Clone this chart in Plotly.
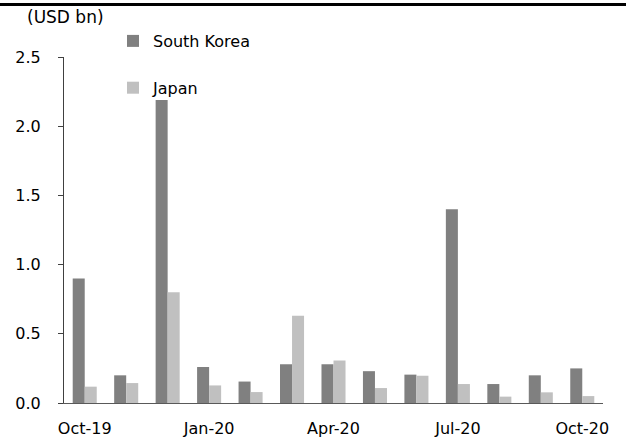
import plotly.graph_objects as go

# Monthly values, USD bn
months = ["Oct-19", "Nov-19", "Dec-19", "Jan-20", "Feb-20", "Mar-20", "Apr-20",
          "May-20", "Jun-20", "Jul-20", "Aug-20", "Sep-20", "Oct-20"]
south_korea = [0.90, 0.20, 2.19, 0.26, 0.155, 0.28, 0.28, 0.23, 0.205, 1.40, 0.137, 0.20, 0.25]
japan = [0.118, 0.144, 0.80, 0.127, 0.079, 0.63, 0.307, 0.108, 0.197, 0.137, 0.046, 0.077, 0.05]

shown_ticks = ["Oct-19", "Jan-20", "Apr-20", "Jul-20", "Oct-20"]
y_ticks = [0.0, 0.5, 1.0, 1.5, 2.0, 2.5]
y_tick_text = ["0.0", "0.5", "1.0", "1.5", "2.0", "2.5"]

W, H = 626, 441
ML, MR, MT, MB = 64, 23, 57, 38
PW, PH = W - ML - MR, H - MT - MB

FONT = "DejaVu Sans"
TXT = "#000000"


def px_x(px):
    return (px - ML) / PW


def px_y(py):
    return (H - MB - py) / PH


fig = go.Figure()
fig.add_trace(go.Bar(x=months, y=south_korea, name="South Korea",
                     marker=dict(color="#808080", line=dict(width=0)),
                     legendgroup="sk"))
fig.add_trace(go.Bar(x=months, y=japan, name="Japan",
                     marker=dict(color="#c0c0c0", line=dict(width=0)),
                     legendgroup="jp"))

fig.update_layout(
    width=W, height=H,
    margin=dict(l=ML, r=MR, t=MT, b=MB, pad=0, autoexpand=False),
    paper_bgcolor="white", plot_bgcolor="white",
    font=dict(family=FONT, size=16, color=TXT),
    barmode="group", bargap=0.42, bargroupgap=0,
    showlegend=True,
    legend=dict(
        xref="container", yref="container",
        x=113 / W, y=1 - 24 / H, xanchor="left", yanchor="top",
        bgcolor="rgba(0,0,0,0)", borderwidth=0,
        font=dict(family=FONT, size=16, color=TXT),
        tracegroupgap=23, traceorder="grouped",
        itemclick=False, itemdoubleclick=False,
    ),
    xaxis=dict(
        type="category", categoryorder="array", categoryarray=months,
        tickmode="array", tickvals=shown_ticks, ticktext=shown_ticks,
        ticks="", showgrid=False, zeroline=False,
        showline=True, linecolor="#595959", linewidth=1,
        tickfont=dict(family=FONT, size=16, color=TXT),
        ticklabelstandoff=11,
    ),
    yaxis=dict(
        range=[0, 2.5], tickmode="array", tickvals=y_ticks, ticktext=y_tick_text,
        ticks="outside", ticklen=5, tickwidth=1, tickcolor="#404040",
        showgrid=False, zeroline=False,
        showline=True, linecolor="#404040", linewidth=1,
        tickfont=dict(family=FONT, size=16, color=TXT),
        ticklabelstandoff=14,
    ),
    shapes=[dict(type="line", xref="paper", yref="paper",
                 x0=px_x(0), x1=px_x(W), y0=px_y(4.5), y1=px_y(4.5),
                 line=dict(color="#000000", width=3))],
    annotations=[dict(text="(USD bn)", xref="paper", yref="paper",
                      x=px_x(25), y=px_y(17), xanchor="left", yanchor="middle",
                      showarrow=False, font=dict(family=FONT, size=17, color=TXT))],
)

fig.write_html("out.html")
